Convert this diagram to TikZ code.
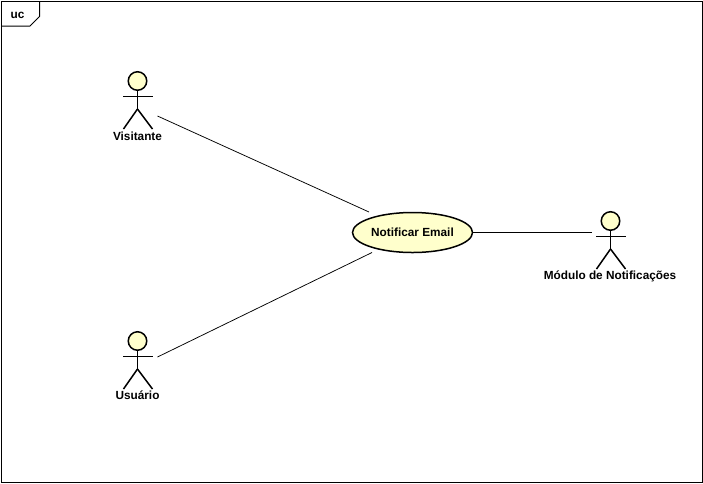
\documentclass[tikz,border=0pt]{standalone}
\usepackage{fontspec}
\setmainfont{Liberation Sans}
\usetikzlibrary{shapes.geometric,calc}
\definecolor{headfill}{RGB}{255,255,204}
\tikzset{
  line/.style={draw=black,line width=0.75pt},
  actorline/.style={draw=black,line width=1.5pt},
  head/.style={circle,draw=black,line width=1.5pt,fill=headfill,minimum size=18.5pt,inner sep=0pt},
  actorlabel/.style={font=\bfseries\fontsize{11.8}{13}\selectfont,inner sep=0pt,text=black},
  usecase/.style={ellipse,draw=black,line width=1.5pt,fill=headfill,minimum width=120pt,minimum height=40pt,inner sep=0pt,font=\bfseries\fontsize{11.8}{13}\selectfont},
  frameline/.style={draw=black,line width=1pt}
}
\newcommand{\stickman}[3]{%
  \node[head] (#1head) at (#2,#3) {};
  \draw[actorline] (#1head.south) -- ++(0,18) coordinate (#1hip);
  \draw[actorline] ($(#1head.south)+(-14.5,5.5)$) -- ++(29.5,0);
  \draw[actorline] (#1hip) -- ++(-14,20);
  \draw[actorline] (#1hip) -- ++(15,20);
}
\begin{document}
\begin{tikzpicture}[x=1pt,y=-1pt]
\useasboundingbox (0,0) rectangle (703,483);
\fill[white] (0,0) rectangle (703,483);
\draw[frameline] (1,1) rectangle (702,482);
\draw[line,line width=1pt] (1,26) -- (30,26) -- (39.5,16.5) -- (39.5,1);
\node[actorlabel] (frame) at (17.5,15) {uc};

\stickman{a}{137.5}{81}
\stickman{b}{137.5}{341}
\stickman{c}{610.5}{221}

\node[actorlabel] (visitante) at (137.5,136) {Visitante};
\node[actorlabel] (usuario) at (137.5,395) {Usuário};
\node[actorlabel] (modulo) at (610,276) {Módulo de Notificações};
\node[usecase] (uc) at (412.5,232.5) {Notificar Email};

\coordinate (aend) at (157.5,116);
\coordinate (bend) at (157.5,357);
\coordinate (cend) at (592,232.5);
\coordinate (ua) at (369,212);
\coordinate (ub) at (372,252.5);
\draw[line] (aend) -- (ua);
\draw[line] (bend) -- (ub);
\draw[line] (uc.east) -- (cend);
\end{tikzpicture}
\end{document}
